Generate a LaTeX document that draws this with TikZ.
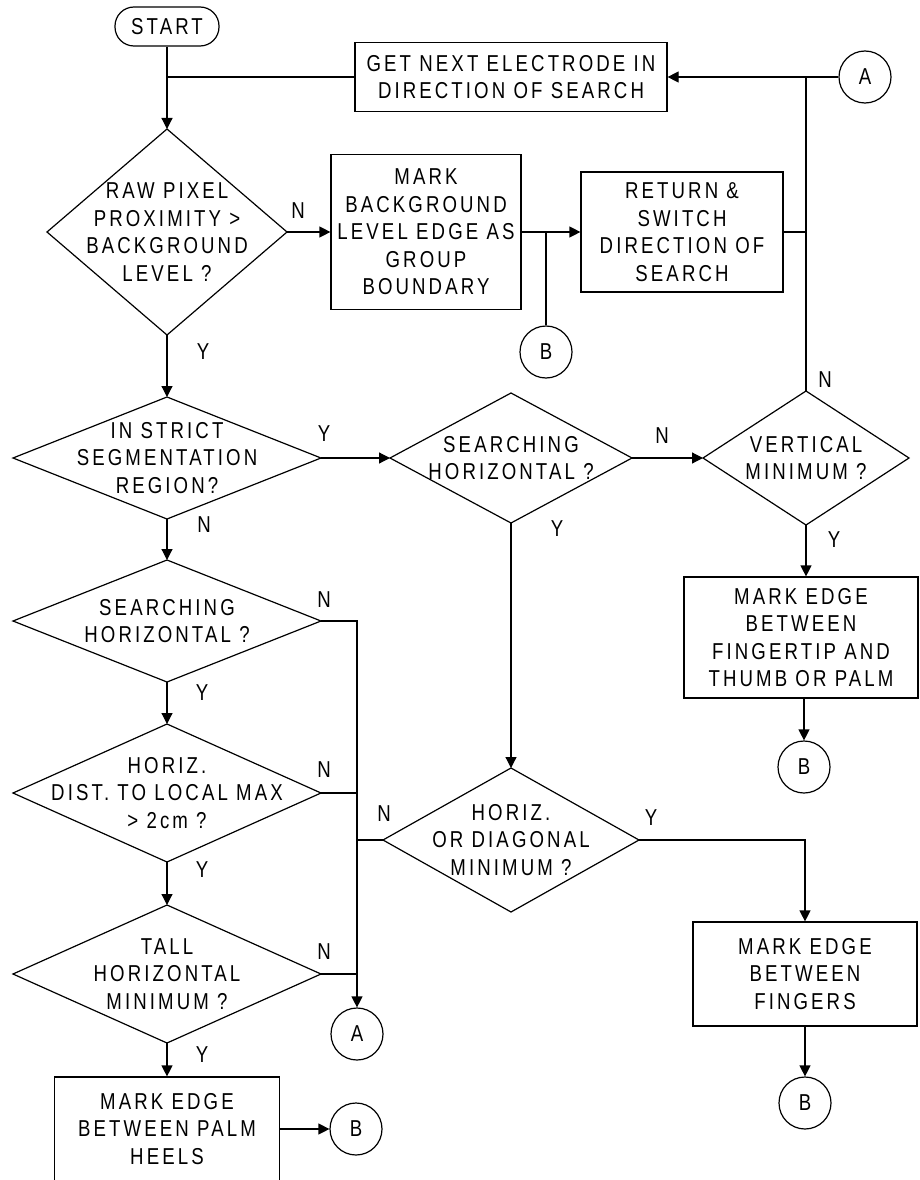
\documentclass[tikz,border=0pt]{standalone}
\usepackage{fontspec}
\newfontfamily\flowfont{Liberation Sans}[FakeStretch=0.81,LetterSpace=13.5]
\usetikzlibrary{arrows.meta,calc}
\tikzset{
  base/.style={font=\flowfont\fontsize{23}{27.5}\selectfont, align=center, inner sep=0pt},
  box/.style={base, draw, line width=1.2pt},
  term/.style={base, draw, line width=1.2pt, rounded corners=19pt, minimum width=104pt, minimum height=39pt},
  conn/.style={base, draw, circle, line width=1.2pt, minimum size=52pt},
  dtext/.style={base},
  lbl/.style={base},
  shapeline/.style={line width=1.2pt, line join=miter},
  conline/.style={line width=1.2pt},
  arr/.style={conline, -{Triangle[length=11pt,width=11pt]}}
}
\newcommand\decision[6]{%
  \node[dtext] (#1) at (#2,#3) {#6};
  \coordinate (#1-n) at (#2,#3-#5);
  \coordinate (#1-s) at (#2,#3+#5);
  \coordinate (#1-w) at (#2-#4,#3);
  \coordinate (#1-e) at (#2+#4,#3);
  \draw[shapeline] (#1-n) -- (#1-e) -- (#1-s) -- (#1-w) -- cycle;
}
\begin{document}
\begin{tikzpicture}[x=1pt,y=-1pt]
\useasboundingbox (0,0) rectangle (920,1180);

% nodes
\node[term] (start) at (167,26.5) {START};
\node[box, minimum width=312pt, minimum height=69pt] (getnext) at (511,77) {GET NEXT ELECTRODE IN\\DIRECTION OF SEARCH};
\node[conn] (aTop) at (865,77) {A};
\decision{d1}{167}{232}{120}{103}{RAW PIXEL\\PROXIMITY >\\BACKGROUND\\LEVEL ?}
\node[box, minimum width=190pt, minimum height=155pt] (markbg) at (426,232) {MARK\\BACKGROUND\\LEVEL EDGE AS\\GROUP\\BOUNDARY};
\node[conn] (bMark) at (546,352) {B};
\node[box, minimum width=202pt, minimum height=120pt] (return) at (682,232) {RETURN \&\\SWITCH\\DIRECTION OF\\SEARCH};
\decision{d2}{167}{458}{154}{61}{IN STRICT\\SEGMENTATION\\REGION?}
\decision{d3}{511}{458}{121}{65}{SEARCHING\\HORIZONTAL ?}
\decision{d7}{806}{458}{103}{67}{VERTICAL\\MINIMUM ?}
\node[box, minimum width=234pt, minimum height=121pt] (fingertip) at (801,637.5) {MARK EDGE\\BETWEEN\\FINGERTIP AND\\THUMB OR PALM};
\node[conn] (bTip) at (804,767) {B};
\decision{d4}{167}{621}{154}{61}{SEARCHING\\HORIZONTAL ?}
\decision{d5}{167}{793}{154}{69}{HORIZ.\\DIST. TO LOCAL MAX\\> 2cm ?}
\decision{d6}{511}{840}{128}{72}{HORIZ.\\OR DIAGONAL\\MINIMUM ?}
\node[box, minimum width=224pt, minimum height=104pt] (fingers) at (805,974) {MARK EDGE\\BETWEEN\\FINGERS};
\node[conn] (bFing) at (805,1103) {B};
\decision{d8}{167}{974}{154}{69}{TALL\\HORIZONTAL\\MINIMUM ?}
\node[conn] (aBot) at (357,1034) {A};
\node[box, minimum width=225pt, minimum height=104pt] (palm) at (167,1129) {MARK EDGE\\BETWEEN PALM\\HEELS};
\node[conn] (bPalm) at (356,1129) {B};

% labels
\node[lbl] (l1n) at (298,211) {N};
\node[lbl] (l1y) at (203,352) {Y};
\node[lbl] (l2y) at (324,434) {Y};
\node[lbl] (l2n) at (204,525) {N};
\node[lbl] (l3n) at (662,436) {N};
\node[lbl] (l3y) at (557,529) {Y};
\node[lbl] (l7n) at (825,380) {N};
\node[lbl] (l7y) at (834,540) {Y};
\node[lbl] (l4n) at (324,600) {N};
\node[lbl] (l4y) at (202,693) {Y};
\node[lbl] (l5n) at (324,770) {N};
\node[lbl] (l5y) at (202,870) {Y};
\node[lbl] (l6n) at (384,814) {N};
\node[lbl] (l6y) at (651,818) {Y};
\node[lbl] (l8n) at (324,952) {N};
\node[lbl] (l8y) at (202,1055) {Y};

% connectors
\draw[arr] (start) -- (d1-n);
\draw[conline] (getnext.west) -- (getnext.west -| start);
\draw[arr] (aTop) -- (getnext);
\draw[conline] (aTop -| d7-n) -- (d7-n);
\draw[conline] (return.east) -- (return.east -| d7-n);
\draw[arr] (d1-e) -- (markbg.west);
\draw[arr] (markbg) -- (return);
\draw[conline] (markbg.east -| bMark) -- (bMark);
\draw[arr] (d1-s) -- (d2-n);
\draw[arr] (d2-e) -- (d3-w);
\draw[arr] (d3-e) -- (d7-w);
\draw[arr] (d3-s) -- (d6-n);
\draw[arr] (d7-s) -- (d7-s |- fingertip.north);
\draw[arr] (bTip |- fingertip.south) -- (bTip);
\draw[arr] (d2-s) -- (d4-n);
\draw[arr] (d4-e) -- (d4-e -| aBot) -- (aBot);
\draw[conline] (d5-e) -- (d5-e -| aBot);
\draw[conline] (d6-w) -- (d6-w -| aBot);
\draw[conline] (d8-e) -- (d8-e -| aBot);
\draw[arr] (d4-s) -- (d5-n);
\draw[arr] (d5-s) -- (d8-n);
\draw[arr] (d8-s) -- (palm);
\draw[arr] (d6-e) -- (d6-e -| fingers.north) -- (fingers.north);
\draw[arr] (fingers) -- (bFing);
\draw[arr] (palm) -- (bPalm);
\end{tikzpicture}
\end{document}
